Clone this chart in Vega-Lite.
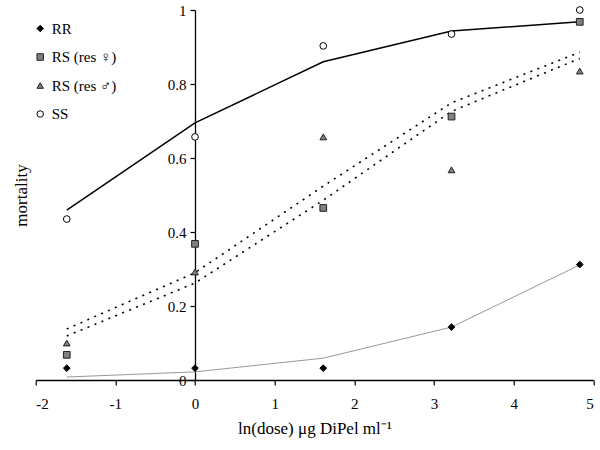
{
  "$schema": "https://vega.github.io/schema/vega-lite/v6.json",
  "width": 557.6,
  "height": 370,
  "autosize": "none",
  "padding": {"left": 35.7, "top": 10, "right": 6.7, "bottom": 70},
  "background": "white",
  "config": {
    "view": {"stroke": null},
    "font": "Liberation Serif",
    "style": {"guide-label": {"font": "Liberation Serif", "fill": "#000"}, "guide-title": {"font": "Liberation Serif", "fill": "#000"}},
    "axis": {"grid": false, "domainColor": "#000", "tickColor": "#000", "domainWidth": 1.3, "tickWidth": 1.2, "tickSize": 5, "labelColor": "#000", "labelFont": "Liberation Serif", "labelFontSize": 15, "titleFont": "Liberation Serif", "titleFontSize": 17, "titleFontWeight": "normal", "titleColor": "#000"}
  },
  "datasets": {
    "points": [
      {"series": "RR", "x": -1.61, "y": 0.032},
      {"series": "RR", "x": 0, "y": 0.032},
      {"series": "RR", "x": 1.61, "y": 0.032},
      {"series": "RR", "x": 3.22, "y": 0.143},
      {"series": "RR", "x": 4.83, "y": 0.312},
      {"series": "RS (res ♀)", "x": -1.61, "y": 0.068},
      {"series": "RS (res ♀)", "x": 0, "y": 0.368},
      {"series": "RS (res ♀)", "x": 1.61, "y": 0.465},
      {"series": "RS (res ♀)", "x": 3.22, "y": 0.712},
      {"series": "RS (res ♀)", "x": 4.83, "y": 0.968},
      {"series": "RS (res ♂)", "x": -1.61, "y": 0.1},
      {"series": "RS (res ♂)", "x": 0, "y": 0.292},
      {"series": "RS (res ♂)", "x": 1.61, "y": 0.657},
      {"series": "RS (res ♂)", "x": 3.22, "y": 0.568},
      {"series": "RS (res ♂)", "x": 4.83, "y": 0.835},
      {"series": "SS", "x": -1.61, "y": 0.435},
      {"series": "SS", "x": 0, "y": 0.657},
      {"series": "SS", "x": 1.61, "y": 0.903},
      {"series": "SS", "x": 3.22, "y": 0.935},
      {"series": "SS", "x": 4.83, "y": 1.0}
    ],
    "fitSS": [
      {"x": -1.61, "y": 0.459},
      {"x": 0, "y": 0.695},
      {"x": 1.61, "y": 0.86},
      {"x": 3.22, "y": 0.943},
      {"x": 4.83, "y": 0.968}
    ],
    "fitRS": [
      {"fit": "male", "x": -1.61, "y": 0.138},
      {"fit": "male", "x": 0, "y": 0.29},
      {"fit": "male", "x": 1.61, "y": 0.524},
      {"fit": "male", "x": 3.22, "y": 0.749},
      {"fit": "male", "x": 4.83, "y": 0.886},
      {"fit": "female", "x": -1.61, "y": 0.119},
      {"fit": "female", "x": 0, "y": 0.262},
      {"fit": "female", "x": 1.61, "y": 0.486},
      {"fit": "female", "x": 3.22, "y": 0.726},
      {"fit": "female", "x": 4.83, "y": 0.869}
    ],
    "fitRR": [
      {"x": -1.61, "y": 0.008},
      {"x": 0, "y": 0.022},
      {"x": 1.61, "y": 0.059},
      {"x": 3.22, "y": 0.143},
      {"x": 4.83, "y": 0.311}
    ]
  },
  "encoding": {
    "x": {"field": "x", "type": "quantitative", "scale": {"domain": [-2, 5], "nice": false, "zero": false},
      "axis": {"values": [-2, -1, 0, 1, 2, 3, 4, 5], "labelExpr": "'' + datum.value", "labelFont": "Liberation Serif", "labelFontSize": 15, "title": "ln(dose) μg DiPel ml⁻¹", "titlePadding": 9, "labelPadding": 11}},
    "y": {"field": "y", "type": "quantitative", "scale": {"domain": [0, 1], "nice": false},
      "axis": {"values": [0, 0.2, 0.4, 0.6, 0.8, 1], "labelExpr": "'' + datum.value", "labelFont": "Liberation Serif", "labelFontSize": 15, "title": "mortality", "offset": -159.3, "titleX": -165, "titleY": 185, "labelPadding": 4}}
  },
  "layer": [
    {"data": {"name": "fitRR"}, "mark": {"type": "line", "color": "#999999", "strokeWidth": 1}},
    {"data": {"name": "fitRS"}, "mark": {"type": "line", "color": "#000", "strokeWidth": 1.6, "strokeDash": [2, 5.5]},
      "encoding": {"detail": {"field": "fit", "type": "nominal"}}},
    {"data": {"name": "fitSS"}, "mark": {"type": "line", "color": "#000", "strokeWidth": 1.5}},
    {"data": {"name": "points"}, "mark": {"type": "point", "filled": true, "size": 45, "strokeWidth": 1, "opacity": 1},
      "encoding": {
        "shape": {"field": "series", "type": "nominal", "scale": {"domain": ["RR", "RS (res ♀)", "RS (res ♂)", "SS"], "range": ["diamond", "square", "triangle-up", "circle"]},
          "legend": {"title": null, "orient": "none", "legendX": -3, "legendY": 11, "symbolSize": 42, "labelFontSize": 15, "labelFont": "Liberation Serif", "labelColor": "#000", "rowPadding": 12.5, "labelOffset": 4, "padding": 0, "symbolStrokeWidth": 1}},
        "fill": {"field": "series", "type": "nominal", "scale": {"domain": ["RR", "RS (res ♀)", "RS (res ♂)", "SS"], "range": ["#000000", "#808080", "#808080", "#ffffff"]}},
        "stroke": {"field": "series", "type": "nominal", "scale": {"domain": ["RR", "RS (res ♀)", "RS (res ♂)", "SS"], "range": ["#000000", "#222222", "#222222", "#000000"]}}
      }}
  ]
}
